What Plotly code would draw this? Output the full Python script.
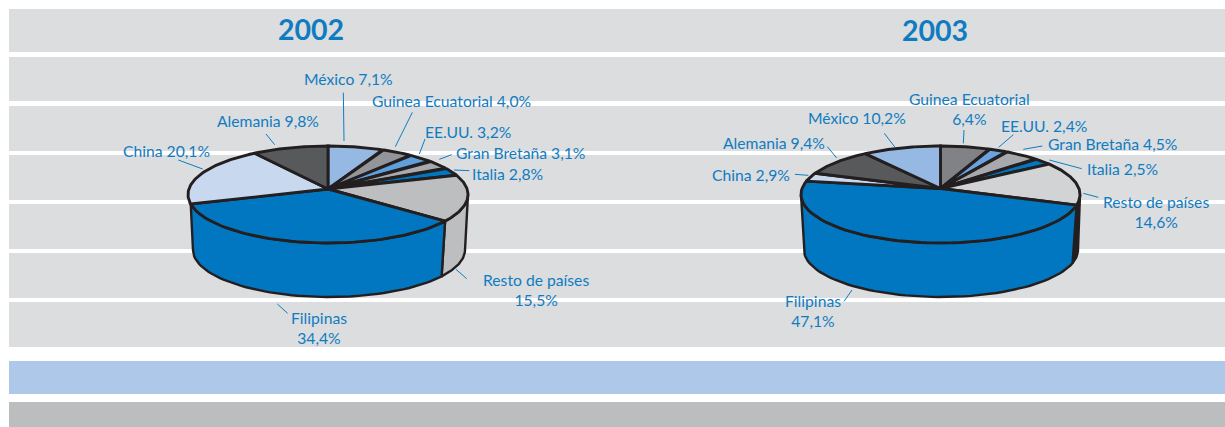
import numpy as np
import plotly.graph_objects as go

# ---- data (clockwise from 12 o'clock) ----
countries_2002 = ["México", "Guinea Ecuatorial", "EE.UU.", "Gran Bretaña", "Italia",
                  "Resto de países", "Filipinas", "China", "Alemania"]
values_2002 = [7.1, 4.0, 3.2, 3.1, 2.8, 15.5, 34.4, 20.1, 9.8]

countries_2003 = ["Guinea Ecuatorial", "EE.UU.", "Gran Bretaña", "Italia",
                  "Resto de países", "Filipinas", "China", "Alemania", "México"]
values_2003 = [6.4, 2.4, 4.5, 2.5, 14.6, 47.1, 2.9, 9.4, 10.2]

titles = ["2002", "2003"]

# ---- styles ----
colors_2002 = ["#95b9e3", "#939598", "#5f9fdc", "#a7a9ac", "#0077c0",
               "#bcbec0", "#0077c0", "#c7d8ef", "#58595b"]
colors_2003 = ["#808285", "#6aa3de", "#a7a9ac", "#0077c0",
               "#d1d3d4", "#0077c0", "#c7d8ef", "#58595b", "#95b9e3"]
side_2002 = list(colors_2002)
side_2003 = list(colors_2003)
side_2003[4] = "#231f20"

INK = "#231f20"
TEXT = "#0f7cc2"
BAND = "#dcddde"

# geometry of the two projected pies (perspective view of a disc)
geo_2002 = dict(cx=328, apex=189, rx=140, up=43, down=54, cx2=329, cy2=250, rx2=136, ry2=47)
geo_2003 = dict(cx=940.5, apex=188.5, rx=139.5, up=42.5, down=54.5, cx2=941, cy2=250, rx2=137, ry2=47)

# label placement: (text, x, y)
labels_2002 = [("México 7,1%", 348.5, 79), ("Guinea Ecuatorial 4,0%", 451, 100.7),
               ("EE.UU. 3,2%", 467.6, 132), ("Gran Bretaña 3,1%", 520, 152.7),
               ("Italia 2,8%", 507, 174), ("Resto de países<br>15,5%", 535.7, 289.5),
               ("Filipinas<br>34,4%", 318.7, 327.5), ("China 20,1%", 166, 150.7),
               ("Alemania 9,8%", 268, 120.7)]
labels_2003 = [("Guinea Ecuatorial<br>6,4%", 969, 109), ("EE.UU. 2,4%", 1043.5, 125.7),
               ("Gran Bretaña 4,5%", 1112, 144.3), ("Italia 2,5%", 1122, 169.3),
               ("Resto de países<br>14,6%", 1156, 211.5), ("Filipinas<br>47,1%", 812.7, 310.5),
               ("China 2,9%", 751, 175.3), ("Alemania 9,4%", 774, 143.3),
               ("México 10,2%", 857, 117.7)]

# leader lines in 3x-zoom units relative to each crop
leaders_2002 = [(730, 98, 732, 243), (937, 157, 886, 260), (975, 237, 958, 282),
                (1055, 284, 1018, 298), (1108, 332, 1062, 330), (1068, 628, 1100, 656),
                (532, 732, 563, 760), (235, 300, 308, 327), (498, 222, 524, 254)]
leaders_2003 = [(792, 210, 790, 250), (940, 224, 896, 262), (1027, 258, 970, 268),
                (1145, 326, 1048, 300), (1195, 412, 1150, 400), (432, 724, 456, 690),
                (285, 343, 325, 346), (382, 260, 410, 294), (553, 220, 585, 262)]

bands = [(9, 52), (57, 101), (106, 151), (155, 200), (204, 249), (253, 298), (302, 347)]


def persp(g):
    return (g["down"] - g["up"]) / (g["down"] + g["up"])


def arc(g, a, b, n=60):
    p = persp(g)
    t = np.radians(np.linspace(a, b, n))
    u, v = np.sin(t), np.cos(t)
    w = 1 + p * v
    rx = g["rx"] * np.sqrt(1 - p * p)
    ry = g["up"] * (1 + p)
    return g["cx"] + rx * u / w, g["apex"] - ry * v / w


def lower_angle(g, x, right_shrink=0.97):
    dx = x - g["cx2"]
    if dx > 0:
        dx *= right_shrink
    s = np.clip(dx / g["rx2"], -1, 1)
    return 180 - np.degrees(np.arcsin(s))


def side_poly(g, a, b):
    # the rim is seen where the disc's silhouette turns: cos(angle) = -p
    turn = np.degrees(np.arccos(-persp(g)))
    a, b = max(a, turn), min(b, 360 - turn)
    if b <= a:
        return None
    xt, yt = arc(g, a, b)
    a2 = 90 if a <= turn else lower_angle(g, xt[0])
    b2 = lower_angle(g, xt[-1])
    if abs(b2 - a2) < 1e-6:
        return None
    t = np.radians(np.linspace(b2, a2, 60))
    xb = g["cx2"] + g["rx2"] * np.sin(t)
    yb = g["cy2"] - g["ry2"] * np.cos(t)
    return np.r_[xt, xb, xt[0]], np.r_[yt, yb, yt[0]]


fig = go.Figure()


def add_pie(names, values, colors, sides, g):
    edges = np.r_[0, np.cumsum(values)] / np.sum(values) * 360
    for i, name in enumerate(names):
        poly = side_poly(g, edges[i], edges[i + 1])
        if poly is None:
            continue
        fig.add_trace(go.Scatter(x=poly[0], y=poly[1], mode="lines", fill="toself",
                                 fillcolor=sides[i], line=dict(color=INK, width=2.4),
                                 hoverinfo="skip", showlegend=False))
    for i, name in enumerate(names):
        xa, ya = arc(g, edges[i], edges[i + 1])
        fig.add_trace(go.Scatter(x=np.r_[g["cx"], xa, g["cx"]], y=np.r_[g["apex"], ya, g["apex"]],
                                 mode="lines", fill="toself", fillcolor=colors[i],
                                 line=dict(color=INK, width=2.9),
                                 name=name, text=f"{name} {values[i]}%", hoverinfo="text",
                                 showlegend=False))


add_pie(countries_2002, values_2002, colors_2002, side_2002, geo_2002)
add_pie(countries_2003, values_2003, colors_2003, side_2003, geo_2003)

shapes = [dict(type="rect", x0=9, x1=1225, y0=a, y1=b, fillcolor=BAND, line_width=0, layer="below")
          for a, b in bands]
shapes += [dict(type="rect", x0=9, x1=1225, y0=361, y1=394, fillcolor="#adc8e8", line_width=0, layer="below"),
           dict(type="rect", x0=9, x1=1225, y0=402, y1=427, fillcolor="#bcbdbf", line_width=0, layer="below")]
for leaders, ox in ((leaders_2002, 100), (leaders_2003, 700)):
    for x0, y0, x1, y1 in leaders:
        shapes.append(dict(type="line", x0=ox + x0 / 3, y0=60 + y0 / 3, x1=ox + x1 / 3, y1=60 + y1 / 3,
                           line=dict(color=TEXT, width=1), layer="above"))

annotations = []
for labels in (labels_2002, labels_2003):
    for text, x, y in labels:
        annotations.append(dict(x=x, y=y, text=text, showarrow=False, xanchor="center", yanchor="middle",
                                font=dict(family="Lato", size=15.7, color=TEXT), align="center"))
for title, x, y in zip(titles, (311, 935), (29, 30)):
    annotations.append(dict(x=x, y=y, text=f"<b>{title}</b>", showarrow=False, xanchor="center", yanchor="middle",
                            font=dict(family="Lato", size=28.5, color=TEXT)))

fig.update_layout(
    width=1225, height=427, margin=dict(l=0, r=0, t=0, b=0),
    paper_bgcolor="white", plot_bgcolor="white",
    xaxis=dict(range=[0, 1225], visible=False, fixedrange=True),
    yaxis=dict(range=[427, 0], visible=False, fixedrange=True),
    shapes=shapes, annotations=annotations, showlegend=False,
)
fig.write_html("out.html", config={"displayModeBar": False},
               post_script="document.body.style.margin='0';document.body.style.overflow='hidden';")
